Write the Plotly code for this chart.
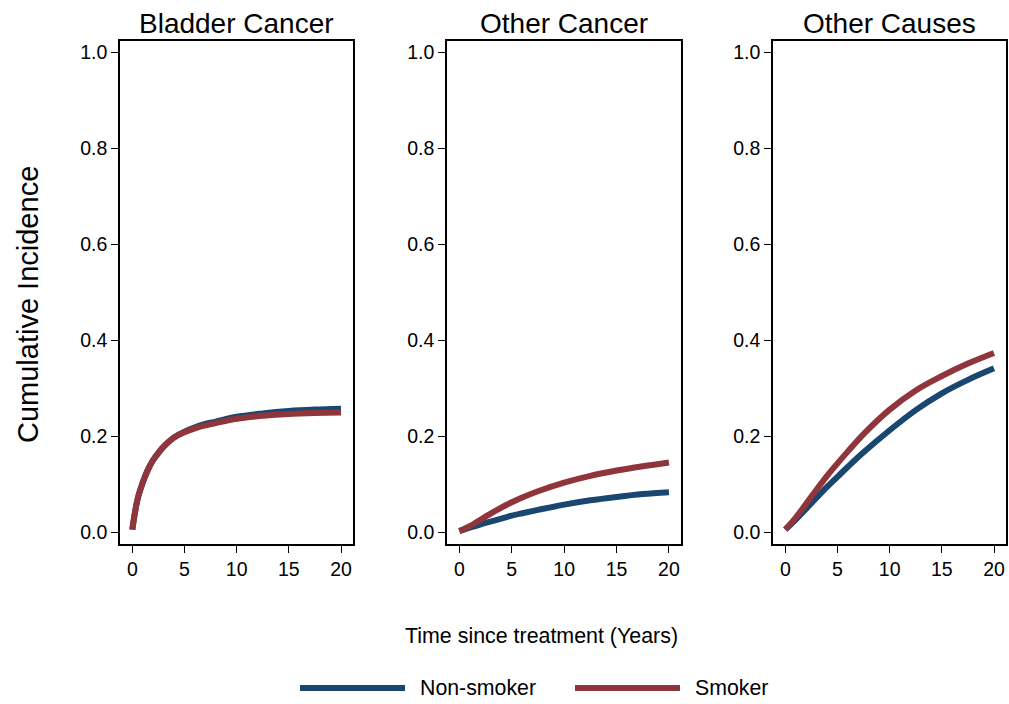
import plotly.graph_objects as go

# ---------------- data ----------------
panels = ["Bladder Cancer", "Other Cancer", "Other Causes"]
series_names = ["Non-smoker", "Smoker"]

bladder_t = [0, 0.5, 1, 1.5, 2, 2.5, 3, 4, 5, 6, 7, 8, 10, 12.5, 15, 17.5, 20]
bladder_non = [0.005, 0.068, 0.103, 0.130, 0.150, 0.165, 0.178, 0.197, 0.209, 0.218, 0.225, 0.230,
               0.240, 0.247, 0.252, 0.255, 0.257]
bladder_smk = [0.005, 0.068, 0.103, 0.130, 0.150, 0.165, 0.178, 0.197, 0.208, 0.216, 0.222, 0.227,
               0.236, 0.242, 0.246, 0.248, 0.249]

othcan_t = [0, 1, 2.5, 4, 5, 6, 7.5, 10, 12.5, 15, 17.5, 20]
othcan_non = [0.002, 0.009, 0.019, 0.028, 0.034, 0.039, 0.046, 0.057, 0.066, 0.073, 0.079, 0.083]
othcan_smk = [0.002, 0.012, 0.032, 0.051, 0.062, 0.072, 0.085, 0.103, 0.117, 0.128, 0.137, 0.145]

othcau_t = [0, 1, 2.5, 4, 5, 6, 7.5, 10, 12.5, 15, 17.5, 20]
othcau_non = [0.005, 0.026, 0.060, 0.094, 0.115, 0.136, 0.166, 0.212, 0.254, 0.289, 0.317, 0.341]
othcau_smk = [0.005, 0.030, 0.074, 0.117, 0.143, 0.168, 0.204, 0.255, 0.295, 0.325, 0.351, 0.373]

x_ticks = [0, 5, 10, 15, 20]
y_ticks = [0.0, 0.2, 0.4, 0.6, 0.8, 1.0]
y_ticklabels = ["0.0", "0.2", "0.4", "0.6", "0.8", "1.0"]

colors = {"Non-smoker": "#1a476f", "Smoker": "#90353b"}

data = [
    (bladder_t, bladder_non, bladder_smk),
    (othcan_t, othcan_non, othcan_smk),
    (othcau_t, othcau_non, othcau_smk),
]

# ---------------- layout geometry ----------------
W, H = 1009, 704
FONT = "Liberation Sans, Arial, Helvetica, sans-serif"
x_domains_px = [(120, 353), (447, 681), (773, 1006)]
y_top_px, y_bot_px = 41, 544

fig = go.Figure()

for i, (t, non, smk) in enumerate(data):
    ax = "" if i == 0 else str(i + 1)
    for name, vals in (("Non-smoker", non), ("Smoker", smk)):
        fig.add_trace(go.Scatter(
            x=t, y=vals, mode="lines", name=name,
            line=dict(color=colors[name], width=6, shape="spline", smoothing=1.0),
            xaxis="x" + ax, yaxis="y" + ax,
            showlegend=False, hoverinfo="x+y+name",
        ))

layout = dict(
    width=W, height=H,
    margin=dict(l=0, r=0, t=0, b=0),
    paper_bgcolor="white", plot_bgcolor="white",
    font=dict(family=FONT, color="black"),
    showlegend=False,
)

TICKSIZE = 19.5
for i, (x0, x1) in enumerate(x_domains_px):
    ax = "" if i == 0 else str(i + 1)
    layout["xaxis" + ax] = dict(
        domain=[x0 / W, x1 / W], anchor="y" + ax,
        range=[-1.18, 21.15], tickvals=x_ticks,
        ticks="outside", ticklen=7, tickwidth=1.2, tickcolor="black",
        showline=True, linecolor="black", linewidth=1.5, mirror=True,
        showgrid=False, zeroline=False,
        tickfont=dict(size=TICKSIZE, family=FONT, color="black"),
    )
    layout["yaxis" + ax] = dict(
        domain=[1 - y_bot_px / H, 1 - y_top_px / H], anchor="x" + ax,
        range=[-0.025, 1.023], tickvals=y_ticks, ticktext=y_ticklabels,
        ticks="outside", ticklen=7, tickwidth=1.2, tickcolor="black",
        showline=True, linecolor="black", linewidth=1.5, mirror=True,
        showgrid=False, zeroline=False,
        tickfont=dict(size=TICKSIZE, family=FONT, color="black"),
    )

annotations = []
for i, (x0, x1) in enumerate(x_domains_px):
    annotations.append(dict(
        text=panels[i], x=(x0 + x1) / 2 / W, y=1 - 23 / H,
        xref="paper", yref="paper", xanchor="center", yanchor="middle",
        showarrow=False, font=dict(size=28, family=FONT, color="black"),
    ))

annotations.append(dict(
    text="Cumulative Incidence", x=28 / W, y=1 - 305 / H,
    xref="paper", yref="paper", xanchor="center", yanchor="middle",
    textangle=-90, showarrow=False, font=dict(size=29, family=FONT, color="black"),
))
annotations.append(dict(
    text="Time since treatment (Years)", x=541 / W, y=1 - 636 / H,
    xref="paper", yref="paper", xanchor="center", yanchor="middle",
    showarrow=False, font=dict(size=21.4, family=FONT, color="black"),
))

# legend (manual, to match long swatches)
shapes = []
legend_items = [("Non-smoker", 300, 405, 418), ("Smoker", 575, 680, 693)]
for name, lx0, lx1, tx in legend_items:
    shapes.append(dict(
        type="line", xref="paper", yref="paper",
        x0=lx0 / W, x1=lx1 / W, y0=1 - 688 / H, y1=1 - 688 / H,
        line=dict(color=colors[name], width=6),
    ))
    annotations.append(dict(
        text=name, x=tx / W, y=1 - 688 / H,
        xref="paper", yref="paper", xanchor="left", yanchor="middle",
        showarrow=False, font=dict(size=21.3, family=FONT, color="black"),
    ))

layout["annotations"] = annotations
layout["shapes"] = shapes
fig.update_layout(**layout)

fig.write_html("out.html")
